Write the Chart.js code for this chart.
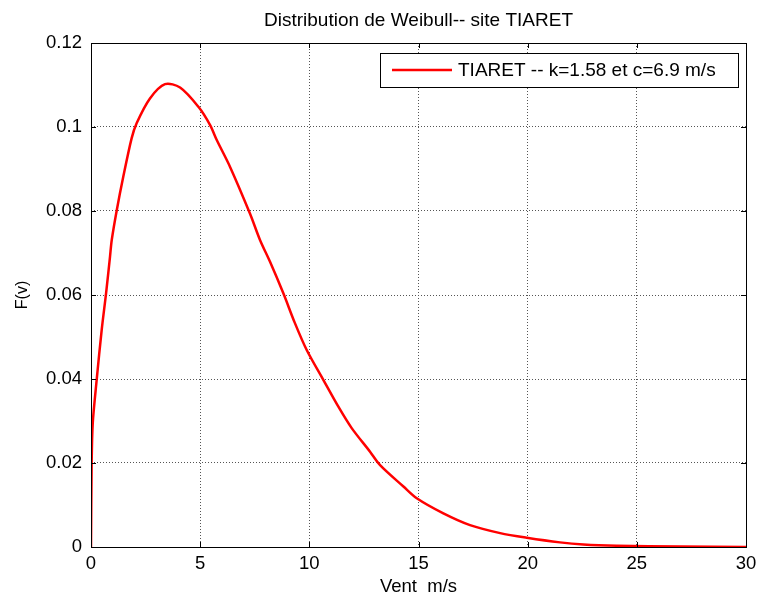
<!DOCTYPE html>
<html>
<head>
<meta charset="utf-8">
<script src="https://cdn.jsdelivr.net/npm/chart.js@4/dist/chart.umd.min.js"></script>
<style>
  html, body { margin:0; padding:0; background:#fff; }
  #wrap { width:758px; height:601px; position:relative; }
</style>
</head>
<body>
<div id="wrap"><canvas id="c" width="758" height="601"></canvas></div>
<script>
// Weibull TIARET
const vent = [0, 0.03, 0.08, 0.26, 0.49, 0.69, 0.87, 0.95, 1.18, 1.48, 1.86, 2.09, 2.7, 3.39, 4.08, 4.92, 5.45, 5.76, 6.37, 7.28, 7.74, 8.2, 8.81, 9.34, 9.88, 10.64, 11.33, 11.94, 12.78, 13.24, 14.31, 14.92, 16.14, 17.36, 18.74, 19.96, 21.48, 22.55, 24.08, 27, 30];
const densite = [0, 0.02, 0.0295, 0.0398, 0.0517, 0.0604, 0.0691, 0.0731, 0.0802, 0.0882, 0.0973, 0.1009, 0.1068, 0.1102, 0.1094, 0.1048, 0.1005, 0.0969, 0.0905, 0.0794, 0.0731, 0.0679, 0.0604, 0.0533, 0.0469, 0.0398, 0.0334, 0.0283, 0.0227, 0.0195, 0.0144, 0.0116, 0.008, 0.0052, 0.0033, 0.0022, 0.0011, 0.0006, 0.0003, 0.0001, 0];
const xTicks = [0, 5, 10, 15, 20, 25, 30];
const yTicks = [0, 0.02, 0.04, 0.06, 0.08, 0.1, 0.12];
const titre = 'Distribution de Weibull-- site TIARET';
const serieLabel = 'TIARET -- k=1.58 et c=6.9 m/s';

const FONT = '"Liberation Sans", Arial, sans-serif';

// cadre, petits traits internes, titre et légende façon MATLAB
const matlabDeco = {
  id: 'matlabDeco',
  afterDraw(chart){
    const {ctx, chartArea:a, scales} = chart;
    ctx.save();
    ctx.strokeStyle = '#000';
    ctx.lineWidth = 1;
    ctx.strokeRect(a.left + 0.5, a.top + 0.5, a.right - a.left, a.bottom - a.top);
    const tl = 5;
    ctx.beginPath();
    xTicks.forEach(v => {
      const px = Math.round(scales.x.getPixelForValue(v)) + 0.5;
      ctx.moveTo(px, a.bottom); ctx.lineTo(px, a.bottom - tl);
      ctx.moveTo(px, a.top); ctx.lineTo(px, a.top + tl);
    });
    yTicks.forEach(v => {
      const py = Math.round(scales.y.getPixelForValue(v)) + 0.5;
      ctx.moveTo(a.left, py); ctx.lineTo(a.left + tl, py);
      ctx.moveTo(a.right, py); ctx.lineTo(a.right - tl, py);
    });
    ctx.stroke();

    // titre
    ctx.fillStyle = '#000';
    ctx.font = '19px ' + FONT;
    ctx.textAlign = 'center';
    ctx.textBaseline = 'middle';
    ctx.fillText(titre, (a.left + a.right) / 2, 21);

    // légende
    const lx = 380, ly = 53, lw = 358, lh = 34;
    ctx.fillStyle = '#fff';
    ctx.fillRect(lx, ly, lw, lh);
    ctx.strokeStyle = '#000';
    ctx.strokeRect(lx + 0.5, ly + 0.5, lw, lh);
    ctx.strokeStyle = '#ff0000';
    ctx.lineWidth = 2.5;
    ctx.beginPath();
    ctx.moveTo(lx + 12, ly + 17); ctx.lineTo(lx + 72, ly + 17);
    ctx.stroke();
    ctx.fillStyle = '#000';
    ctx.font = '19px ' + FONT;
    ctx.textAlign = 'left';
    ctx.fillText(serieLabel, lx + 78, ly + 18);
    ctx.restore();
  }
};

const points = vent.map((v, i) => ({x: v, y: densite[i]}));

new Chart(document.getElementById('c'), {
  type: 'line',
  data: {
    datasets: [{
      label: serieLabel,
      data: points,
      borderColor: '#ff0000',
      borderWidth: 2.5,
      pointRadius: 0,
      tension: 0.3,
      fill: false
    }]
  },
  options: {
    responsive: false,
    animation: false,
    layout: { padding: { left: 0, top: 43, right: 12, bottom: 0 } },
    plugins: { legend: { display: false }, title: { display: false }, tooltip: { enabled: false } },
    scales: {
      x: {
        type: 'linear', min: 0, max: 30,
        afterFit: s => { s.height = 54; s.paddingLeft = 0; s.paddingRight = 0; },
        afterBuildTicks: s => { s.ticks = xTicks.map(v => ({value: v})); },
        ticks: { color: '#000', padding: 6, font: { family: FONT, size: 18.5 } },
        grid: { color: '#555', lineWidth: 1, drawTicks: false, tickLength: 0 },
        border: { display: false, dash: [1, 2] },
        title: { display: true, text: 'Vent  m/s', color: '#000', font: { family: FONT, size: 18.5 }, padding: { top: 0, bottom: 3 } }
      },
      y: {
        type: 'linear', min: 0, max: 0.12,
        afterFit: s => { s.width = 91; s.paddingTop = 0; s.paddingBottom = 0; },
        afterBuildTicks: s => { s.ticks = yTicks.map(v => ({value: v})); },
        ticks: { color: '#000', padding: 9, font: { family: FONT, size: 18.5 },
          callback: v => String(parseFloat(v.toFixed(2))) },
        grid: { color: '#555', lineWidth: 1, drawTicks: false, tickLength: 0 },
        border: { display: false, dash: [1, 2] },
        title: { display: true, text: 'F(v)', color: '#000', font: { family: FONT, size: 16 }, padding: { top: 13, bottom: 0 } }
      }
    }
  },
  plugins: [matlabDeco]
});
</script>
</body>
</html>
